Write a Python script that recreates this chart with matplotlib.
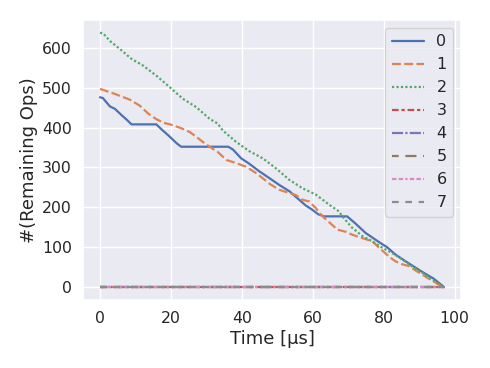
import matplotlib
matplotlib.use("Agg")
import matplotlib.pyplot as plt
import seaborn as sns

labels = ["0", "1", "2", "3", "4", "5", "6", "7"]

t0 = [0, 0.8, 2.8, 4.2, 6.1, 7.5, 8.9, 15.9, 17.3, 19.7, 21.7, 22.9, 36.2, 37.5, 39.8, 42, 45,
      47.5, 50.6, 53.5, 56.2, 58, 59.9, 61.5, 63.2, 69.7, 72, 74.9, 78.7, 81, 83.3, 86,
      89, 91.5, 94, 96.4, 97]
v0 = [476, 474, 453, 447, 431, 420, 408, 408, 396, 377, 360, 352, 352, 345, 323, 310, 290,
      275, 256, 240, 219, 205, 194, 183, 177.5, 177.5, 160, 136, 113, 100, 82, 66,
      49, 35, 22, 5, 0]

t1 = [0, 4, 8.4, 11.2, 13.6, 15.9, 18, 20.6, 23, 25.3, 27, 29, 30.9, 33.2, 35.6, 38, 41.2, 44,
      45.9, 48, 50.6, 53.4, 55.2, 57.1, 59, 60.9, 61.8, 63.2, 65, 67, 69.3, 71, 73, 76.8,
      78.7, 79.6, 81.5, 83.3, 85, 87.1, 89, 90.8, 93, 95.5, 97]
v1 = [497, 485, 470, 455, 435, 421, 412, 406, 398, 389, 378, 364, 352, 339, 319, 312, 302, 286,
      273, 258, 244, 236, 231, 219, 215, 198, 187, 174, 160, 144, 139, 132, 126, 115,
      99, 92, 77, 65, 58, 53, 42, 32, 20, 7, 0]

t2 = [0, 1, 2.8, 5.6, 8.9, 12.2, 15.9, 19.7, 23.4, 27.2, 30.9, 33.2, 34.6, 38.4, 42.1, 45.9,
      49.6, 53.4, 57.1, 60.9, 64.6, 67.4, 68.4, 71, 74, 76.8, 79.6, 82.5, 85.2, 88, 90.8,
      93.5, 96.4, 97]
v2 = [638, 635, 617, 597, 572, 555, 530, 501, 472, 451, 422, 410, 393, 364, 341, 323,
      298, 269, 248, 232, 207, 190, 177, 150, 128, 115, 99, 85, 70, 52, 37,
      20, 3, 0]

t_idle = [0, 97]
v_idle = [0, 0]

series_t = [t0, t1, t2, t_idle, t_idle, t_idle, t_idle, t_idle]
series_v = [v0, v1, v2, v_idle, v_idle, v_idle, v_idle, v_idle]

sns.set_theme(style="darkgrid")
plt.rcParams["font.family"] = ["DejaVu Sans"]

dashes = [(None, None), (4, 1.5), (1, 1), (3, 1.25, 1.5, 1.25), (5, 1, 1, 1),
          (3, 3, 5, 3, 5, 3), (2, 1, 2, 1, 1, 1), (3, 3, 3, 3, 5, 3)]
palette = sns.color_palette("deep", 8)

fig = plt.figure(figsize=(4.9, 3.68), dpi=100)
ax = fig.add_axes([0.169, 0.185, 0.772, 0.761])

for i, lab in enumerate(labels):
    line, = ax.plot(series_t[i], series_v[i], color=palette[i], lw=1.6, label=lab)
    if dashes[i][0] is not None:
        line.set_dashes(dashes[i])

ax.set_xlabel("Time [µs]", fontsize=13, labelpad=3)
ax.set_ylabel("#(Remaining Ops)", fontsize=13, labelpad=3)
ax.tick_params(labelsize=11.3, length=0, pad=8)
ax.set_xticks([0, 20, 40, 60, 80, 100])
ax.set_yticks([0, 100, 200, 300, 400, 500, 600])
ax.legend(loc="upper right", fontsize=11.5)

fig.savefig("out.png", dpi=100)
